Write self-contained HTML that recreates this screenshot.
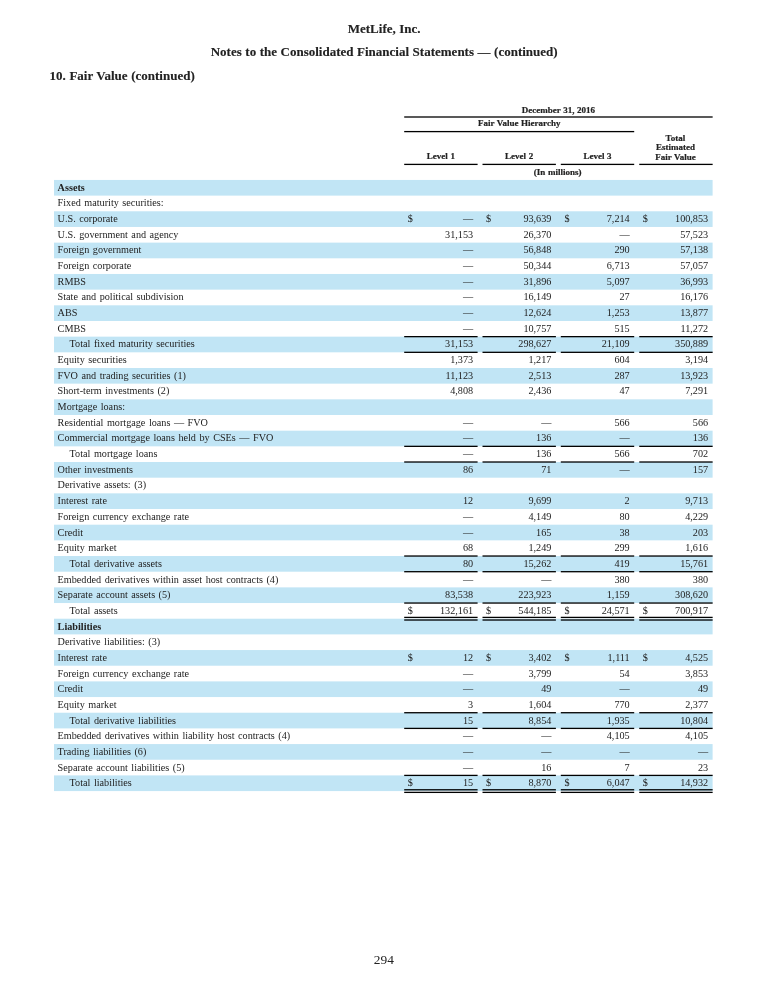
<!DOCTYPE html>
<html><head><meta charset="utf-8"><title>MetLife Fair Value</title>
<style>
html,body{margin:0;padding:0;background:#fff;}
body{width:768px;height:1004px;position:relative;overflow:hidden;font-family:"Liberation Serif",serif;color:#222;}
.t{position:absolute;white-space:nowrap;}
.h{-webkit-text-stroke:0.2px #222;}
.ti{-webkit-text-stroke:0.12px #222;}
#w{position:absolute;left:0;top:0;width:768px;height:1004px;will-change:transform;}
.r{position:absolute;}
</style></head><body>
<svg width="768" height="1004" viewBox="0 0 768 1004" style="position:absolute;left:0;top:0">
<rect x="404.20" y="116.35" width="308.45" height="1.30" fill="#000"/>
<rect x="404.20" y="130.95" width="230.00" height="1.30" fill="#000"/>
<rect x="404.20" y="163.75" width="73.40" height="1.30" fill="#000"/>
<rect x="482.50" y="163.75" width="73.40" height="1.30" fill="#000"/>
<rect x="560.80" y="163.75" width="73.40" height="1.30" fill="#000"/>
<rect x="639.25" y="163.75" width="73.40" height="1.30" fill="#000"/>
<rect x="54.00" y="179.95" width="658.60" height="15.67" fill="#c1e5f5"/>
<rect x="54.00" y="211.29" width="658.60" height="15.67" fill="#c1e5f5"/>
<rect x="54.00" y="242.63" width="658.60" height="15.67" fill="#c1e5f5"/>
<rect x="54.00" y="273.97" width="658.60" height="15.67" fill="#c1e5f5"/>
<rect x="54.00" y="305.31" width="658.60" height="15.67" fill="#c1e5f5"/>
<rect x="54.00" y="336.65" width="658.60" height="15.67" fill="#c1e5f5"/>
<rect x="54.00" y="367.99" width="658.60" height="15.67" fill="#c1e5f5"/>
<rect x="54.00" y="399.33" width="658.60" height="15.67" fill="#c1e5f5"/>
<rect x="54.00" y="430.67" width="658.60" height="15.67" fill="#c1e5f5"/>
<rect x="54.00" y="462.01" width="658.60" height="15.67" fill="#c1e5f5"/>
<rect x="54.00" y="493.35" width="658.60" height="15.67" fill="#c1e5f5"/>
<rect x="54.00" y="524.69" width="658.60" height="15.67" fill="#c1e5f5"/>
<rect x="54.00" y="556.03" width="658.60" height="15.67" fill="#c1e5f5"/>
<rect x="54.00" y="587.37" width="658.60" height="15.67" fill="#c1e5f5"/>
<rect x="54.00" y="618.71" width="658.60" height="15.67" fill="#c1e5f5"/>
<rect x="54.00" y="650.05" width="658.60" height="15.67" fill="#c1e5f5"/>
<rect x="54.00" y="681.39" width="658.60" height="15.67" fill="#c1e5f5"/>
<rect x="54.00" y="712.73" width="658.60" height="15.67" fill="#c1e5f5"/>
<rect x="54.00" y="744.07" width="658.60" height="15.67" fill="#c1e5f5"/>
<rect x="54.00" y="775.41" width="658.60" height="15.67" fill="#c1e5f5"/>
<rect x="404.20" y="336.00" width="73.40" height="1.30" fill="#000"/>
<rect x="482.50" y="336.00" width="73.40" height="1.30" fill="#000"/>
<rect x="560.80" y="336.00" width="73.40" height="1.30" fill="#000"/>
<rect x="639.25" y="336.00" width="73.40" height="1.30" fill="#000"/>
<rect x="404.20" y="445.69" width="73.40" height="1.30" fill="#000"/>
<rect x="482.50" y="445.69" width="73.40" height="1.30" fill="#000"/>
<rect x="560.80" y="445.69" width="73.40" height="1.30" fill="#000"/>
<rect x="639.25" y="445.69" width="73.40" height="1.30" fill="#000"/>
<rect x="404.20" y="555.38" width="73.40" height="1.30" fill="#000"/>
<rect x="482.50" y="555.38" width="73.40" height="1.30" fill="#000"/>
<rect x="560.80" y="555.38" width="73.40" height="1.30" fill="#000"/>
<rect x="639.25" y="555.38" width="73.40" height="1.30" fill="#000"/>
<rect x="404.20" y="602.39" width="73.40" height="1.30" fill="#000"/>
<rect x="482.50" y="602.39" width="73.40" height="1.30" fill="#000"/>
<rect x="560.80" y="602.39" width="73.40" height="1.30" fill="#000"/>
<rect x="639.25" y="602.39" width="73.40" height="1.30" fill="#000"/>
<rect x="404.20" y="712.08" width="73.40" height="1.30" fill="#000"/>
<rect x="482.50" y="712.08" width="73.40" height="1.30" fill="#000"/>
<rect x="560.80" y="712.08" width="73.40" height="1.30" fill="#000"/>
<rect x="639.25" y="712.08" width="73.40" height="1.30" fill="#000"/>
<rect x="404.20" y="774.76" width="73.40" height="1.30" fill="#000"/>
<rect x="482.50" y="774.76" width="73.40" height="1.30" fill="#000"/>
<rect x="560.80" y="774.76" width="73.40" height="1.30" fill="#000"/>
<rect x="639.25" y="774.76" width="73.40" height="1.30" fill="#000"/>
<rect x="404.20" y="351.67" width="73.40" height="1.30" fill="#000"/>
<rect x="482.50" y="351.67" width="73.40" height="1.30" fill="#000"/>
<rect x="560.80" y="351.67" width="73.40" height="1.30" fill="#000"/>
<rect x="639.25" y="351.67" width="73.40" height="1.30" fill="#000"/>
<rect x="404.20" y="461.36" width="73.40" height="1.30" fill="#000"/>
<rect x="482.50" y="461.36" width="73.40" height="1.30" fill="#000"/>
<rect x="560.80" y="461.36" width="73.40" height="1.30" fill="#000"/>
<rect x="639.25" y="461.36" width="73.40" height="1.30" fill="#000"/>
<rect x="404.20" y="571.05" width="73.40" height="1.30" fill="#000"/>
<rect x="482.50" y="571.05" width="73.40" height="1.30" fill="#000"/>
<rect x="560.80" y="571.05" width="73.40" height="1.30" fill="#000"/>
<rect x="639.25" y="571.05" width="73.40" height="1.30" fill="#000"/>
<rect x="404.20" y="727.75" width="73.40" height="1.30" fill="#000"/>
<rect x="482.50" y="727.75" width="73.40" height="1.30" fill="#000"/>
<rect x="560.80" y="727.75" width="73.40" height="1.30" fill="#000"/>
<rect x="639.25" y="727.75" width="73.40" height="1.30" fill="#000"/>
<rect x="404.20" y="616.76" width="73.40" height="1.30" fill="#000"/>
<rect x="404.20" y="619.36" width="73.40" height="1.30" fill="#000"/>
<rect x="482.50" y="616.76" width="73.40" height="1.30" fill="#000"/>
<rect x="482.50" y="619.36" width="73.40" height="1.30" fill="#000"/>
<rect x="560.80" y="616.76" width="73.40" height="1.30" fill="#000"/>
<rect x="560.80" y="619.36" width="73.40" height="1.30" fill="#000"/>
<rect x="639.25" y="616.76" width="73.40" height="1.30" fill="#000"/>
<rect x="639.25" y="619.36" width="73.40" height="1.30" fill="#000"/>
<rect x="404.20" y="789.13" width="73.40" height="1.30" fill="#000"/>
<rect x="404.20" y="791.73" width="73.40" height="1.30" fill="#000"/>
<rect x="482.50" y="789.13" width="73.40" height="1.30" fill="#000"/>
<rect x="482.50" y="791.73" width="73.40" height="1.30" fill="#000"/>
<rect x="560.80" y="789.13" width="73.40" height="1.30" fill="#000"/>
<rect x="560.80" y="791.73" width="73.40" height="1.30" fill="#000"/>
<rect x="639.25" y="789.13" width="73.40" height="1.30" fill="#000"/>
<rect x="639.25" y="791.73" width="73.40" height="1.30" fill="#000"/>
</svg>
<div id="w">
<div class="t ti" style="top:22.11px;font-size:13.0px;line-height:13.0px;word-spacing:0.3px;font-weight:bold;left:84.20px;width:600px;text-align:center;">MetLife, Inc.</div>
<div class="t ti" style="top:45.16px;font-size:13.0px;line-height:13.0px;word-spacing:0.3px;font-weight:bold;left:84.20px;width:600px;text-align:center;">Notes to the Consolidated Financial Statements — (continued)</div>
<div class="t ti" style="top:69.21px;font-size:13.0px;line-height:13.0px;word-spacing:0.3px;font-weight:bold;left:49.60px;">10. Fair Value (continued)</div>
<div class="t h" style="top:105.56px;font-size:9.0px;line-height:9.0px;word-spacing:0.4px;font-weight:bold;left:258.43px;width:600px;text-align:center;">December 31, 2016</div>
<div class="t h" style="top:119.36px;font-size:9.0px;line-height:9.0px;word-spacing:0.4px;font-weight:bold;left:219.20px;width:600px;text-align:center;">Fair Value Hierarchy</div>
<div class="t h" style="top:152.36px;font-size:9.0px;line-height:9.0px;word-spacing:0.4px;font-weight:bold;left:140.90px;width:600px;text-align:center;">Level 1</div>
<div class="t h" style="top:152.36px;font-size:9.0px;line-height:9.0px;word-spacing:0.4px;font-weight:bold;left:219.20px;width:600px;text-align:center;">Level 2</div>
<div class="t h" style="top:152.36px;font-size:9.0px;line-height:9.0px;word-spacing:0.4px;font-weight:bold;left:297.50px;width:600px;text-align:center;">Level 3</div>
<div class="t h" style="top:134.26px;font-size:9.0px;line-height:9.0px;word-spacing:0.4px;font-weight:bold;left:375.45px;width:600px;text-align:center;">Total</div>
<div class="t h" style="top:143.46px;font-size:9.0px;line-height:9.0px;word-spacing:0.4px;font-weight:bold;left:375.45px;width:600px;text-align:center;">Estimated</div>
<div class="t h" style="top:152.66px;font-size:9.0px;line-height:9.0px;word-spacing:0.4px;font-weight:bold;left:375.45px;width:600px;text-align:center;">Fair Value</div>
<div class="t h" style="top:167.66px;font-size:9.0px;line-height:9.0px;word-spacing:0.4px;font-weight:bold;left:257.60px;width:600px;text-align:center;">(In millions)</div>
<div class="t" style="top:182.76px;font-size:10.2px;line-height:10.2px;word-spacing:0.95px;font-weight:bold;left:57.60px;">Assets</div>
<div class="t" style="top:198.43px;font-size:10.2px;line-height:10.2px;word-spacing:0.95px;left:57.60px;">Fixed maturity securities:</div>
<div class="t" style="top:214.10px;font-size:10.2px;line-height:10.2px;word-spacing:0.95px;left:57.60px;">U.S. corporate</div>
<div class="t" style="top:214.10px;font-size:10.2px;line-height:10.2px;left:173.10px;width:300px;text-align:right;">—</div>
<div class="t" style="top:214.10px;font-size:10.2px;line-height:10.2px;left:407.80px;">$</div>
<div class="t" style="top:214.10px;font-size:10.2px;line-height:10.2px;left:251.40px;width:300px;text-align:right;">93,639</div>
<div class="t" style="top:214.10px;font-size:10.2px;line-height:10.2px;left:486.10px;">$</div>
<div class="t" style="top:214.10px;font-size:10.2px;line-height:10.2px;left:329.70px;width:300px;text-align:right;">7,214</div>
<div class="t" style="top:214.10px;font-size:10.2px;line-height:10.2px;left:564.40px;">$</div>
<div class="t" style="top:214.10px;font-size:10.2px;line-height:10.2px;left:408.15px;width:300px;text-align:right;">100,853</div>
<div class="t" style="top:214.10px;font-size:10.2px;line-height:10.2px;left:642.85px;">$</div>
<div class="t" style="top:229.77px;font-size:10.2px;line-height:10.2px;word-spacing:0.95px;left:57.60px;">U.S. government and agency</div>
<div class="t" style="top:229.77px;font-size:10.2px;line-height:10.2px;left:173.10px;width:300px;text-align:right;">31,153</div>
<div class="t" style="top:229.77px;font-size:10.2px;line-height:10.2px;left:251.40px;width:300px;text-align:right;">26,370</div>
<div class="t" style="top:229.77px;font-size:10.2px;line-height:10.2px;left:329.70px;width:300px;text-align:right;">—</div>
<div class="t" style="top:229.77px;font-size:10.2px;line-height:10.2px;left:408.15px;width:300px;text-align:right;">57,523</div>
<div class="t" style="top:245.44px;font-size:10.2px;line-height:10.2px;word-spacing:0.95px;left:57.60px;">Foreign government</div>
<div class="t" style="top:245.44px;font-size:10.2px;line-height:10.2px;left:173.10px;width:300px;text-align:right;">—</div>
<div class="t" style="top:245.44px;font-size:10.2px;line-height:10.2px;left:251.40px;width:300px;text-align:right;">56,848</div>
<div class="t" style="top:245.44px;font-size:10.2px;line-height:10.2px;left:329.70px;width:300px;text-align:right;">290</div>
<div class="t" style="top:245.44px;font-size:10.2px;line-height:10.2px;left:408.15px;width:300px;text-align:right;">57,138</div>
<div class="t" style="top:261.11px;font-size:10.2px;line-height:10.2px;word-spacing:0.95px;left:57.60px;">Foreign corporate</div>
<div class="t" style="top:261.11px;font-size:10.2px;line-height:10.2px;left:173.10px;width:300px;text-align:right;">—</div>
<div class="t" style="top:261.11px;font-size:10.2px;line-height:10.2px;left:251.40px;width:300px;text-align:right;">50,344</div>
<div class="t" style="top:261.11px;font-size:10.2px;line-height:10.2px;left:329.70px;width:300px;text-align:right;">6,713</div>
<div class="t" style="top:261.11px;font-size:10.2px;line-height:10.2px;left:408.15px;width:300px;text-align:right;">57,057</div>
<div class="t" style="top:276.78px;font-size:10.2px;line-height:10.2px;word-spacing:0.95px;left:57.60px;">RMBS</div>
<div class="t" style="top:276.78px;font-size:10.2px;line-height:10.2px;left:173.10px;width:300px;text-align:right;">—</div>
<div class="t" style="top:276.78px;font-size:10.2px;line-height:10.2px;left:251.40px;width:300px;text-align:right;">31,896</div>
<div class="t" style="top:276.78px;font-size:10.2px;line-height:10.2px;left:329.70px;width:300px;text-align:right;">5,097</div>
<div class="t" style="top:276.78px;font-size:10.2px;line-height:10.2px;left:408.15px;width:300px;text-align:right;">36,993</div>
<div class="t" style="top:292.45px;font-size:10.2px;line-height:10.2px;word-spacing:0.95px;left:57.60px;">State and political subdivision</div>
<div class="t" style="top:292.45px;font-size:10.2px;line-height:10.2px;left:173.10px;width:300px;text-align:right;">—</div>
<div class="t" style="top:292.45px;font-size:10.2px;line-height:10.2px;left:251.40px;width:300px;text-align:right;">16,149</div>
<div class="t" style="top:292.45px;font-size:10.2px;line-height:10.2px;left:329.70px;width:300px;text-align:right;">27</div>
<div class="t" style="top:292.45px;font-size:10.2px;line-height:10.2px;left:408.15px;width:300px;text-align:right;">16,176</div>
<div class="t" style="top:308.12px;font-size:10.2px;line-height:10.2px;word-spacing:0.95px;left:57.60px;">ABS</div>
<div class="t" style="top:308.12px;font-size:10.2px;line-height:10.2px;left:173.10px;width:300px;text-align:right;">—</div>
<div class="t" style="top:308.12px;font-size:10.2px;line-height:10.2px;left:251.40px;width:300px;text-align:right;">12,624</div>
<div class="t" style="top:308.12px;font-size:10.2px;line-height:10.2px;left:329.70px;width:300px;text-align:right;">1,253</div>
<div class="t" style="top:308.12px;font-size:10.2px;line-height:10.2px;left:408.15px;width:300px;text-align:right;">13,877</div>
<div class="t" style="top:323.79px;font-size:10.2px;line-height:10.2px;word-spacing:0.95px;left:57.60px;">CMBS</div>
<div class="t" style="top:323.79px;font-size:10.2px;line-height:10.2px;left:173.10px;width:300px;text-align:right;">—</div>
<div class="t" style="top:323.79px;font-size:10.2px;line-height:10.2px;left:251.40px;width:300px;text-align:right;">10,757</div>
<div class="t" style="top:323.79px;font-size:10.2px;line-height:10.2px;left:329.70px;width:300px;text-align:right;">515</div>
<div class="t" style="top:323.79px;font-size:10.2px;line-height:10.2px;left:408.15px;width:300px;text-align:right;">11,272</div>
<div class="t" style="top:339.46px;font-size:10.2px;line-height:10.2px;word-spacing:0.95px;left:69.60px;">Total fixed maturity securities</div>
<div class="t" style="top:339.46px;font-size:10.2px;line-height:10.2px;left:173.10px;width:300px;text-align:right;">31,153</div>
<div class="t" style="top:339.46px;font-size:10.2px;line-height:10.2px;left:251.40px;width:300px;text-align:right;">298,627</div>
<div class="t" style="top:339.46px;font-size:10.2px;line-height:10.2px;left:329.70px;width:300px;text-align:right;">21,109</div>
<div class="t" style="top:339.46px;font-size:10.2px;line-height:10.2px;left:408.15px;width:300px;text-align:right;">350,889</div>
<div class="t" style="top:355.13px;font-size:10.2px;line-height:10.2px;word-spacing:0.95px;left:57.60px;">Equity securities</div>
<div class="t" style="top:355.13px;font-size:10.2px;line-height:10.2px;left:173.10px;width:300px;text-align:right;">1,373</div>
<div class="t" style="top:355.13px;font-size:10.2px;line-height:10.2px;left:251.40px;width:300px;text-align:right;">1,217</div>
<div class="t" style="top:355.13px;font-size:10.2px;line-height:10.2px;left:329.70px;width:300px;text-align:right;">604</div>
<div class="t" style="top:355.13px;font-size:10.2px;line-height:10.2px;left:408.15px;width:300px;text-align:right;">3,194</div>
<div class="t" style="top:370.80px;font-size:10.2px;line-height:10.2px;word-spacing:0.95px;left:57.60px;">FVO and trading securities (1)</div>
<div class="t" style="top:370.80px;font-size:10.2px;line-height:10.2px;left:173.10px;width:300px;text-align:right;">11,123</div>
<div class="t" style="top:370.80px;font-size:10.2px;line-height:10.2px;left:251.40px;width:300px;text-align:right;">2,513</div>
<div class="t" style="top:370.80px;font-size:10.2px;line-height:10.2px;left:329.70px;width:300px;text-align:right;">287</div>
<div class="t" style="top:370.80px;font-size:10.2px;line-height:10.2px;left:408.15px;width:300px;text-align:right;">13,923</div>
<div class="t" style="top:386.47px;font-size:10.2px;line-height:10.2px;word-spacing:0.95px;left:57.60px;">Short-term investments (2)</div>
<div class="t" style="top:386.47px;font-size:10.2px;line-height:10.2px;left:173.10px;width:300px;text-align:right;">4,808</div>
<div class="t" style="top:386.47px;font-size:10.2px;line-height:10.2px;left:251.40px;width:300px;text-align:right;">2,436</div>
<div class="t" style="top:386.47px;font-size:10.2px;line-height:10.2px;left:329.70px;width:300px;text-align:right;">47</div>
<div class="t" style="top:386.47px;font-size:10.2px;line-height:10.2px;left:408.15px;width:300px;text-align:right;">7,291</div>
<div class="t" style="top:402.14px;font-size:10.2px;line-height:10.2px;word-spacing:0.95px;left:57.60px;">Mortgage loans:</div>
<div class="t" style="top:417.81px;font-size:10.2px;line-height:10.2px;word-spacing:0.95px;left:57.60px;">Residential mortgage loans — FVO</div>
<div class="t" style="top:417.81px;font-size:10.2px;line-height:10.2px;left:173.10px;width:300px;text-align:right;">—</div>
<div class="t" style="top:417.81px;font-size:10.2px;line-height:10.2px;left:251.40px;width:300px;text-align:right;">—</div>
<div class="t" style="top:417.81px;font-size:10.2px;line-height:10.2px;left:329.70px;width:300px;text-align:right;">566</div>
<div class="t" style="top:417.81px;font-size:10.2px;line-height:10.2px;left:408.15px;width:300px;text-align:right;">566</div>
<div class="t" style="top:433.48px;font-size:10.2px;line-height:10.2px;word-spacing:0.95px;left:57.60px;">Commercial mortgage loans held by CSEs — FVO</div>
<div class="t" style="top:433.48px;font-size:10.2px;line-height:10.2px;left:173.10px;width:300px;text-align:right;">—</div>
<div class="t" style="top:433.48px;font-size:10.2px;line-height:10.2px;left:251.40px;width:300px;text-align:right;">136</div>
<div class="t" style="top:433.48px;font-size:10.2px;line-height:10.2px;left:329.70px;width:300px;text-align:right;">—</div>
<div class="t" style="top:433.48px;font-size:10.2px;line-height:10.2px;left:408.15px;width:300px;text-align:right;">136</div>
<div class="t" style="top:449.15px;font-size:10.2px;line-height:10.2px;word-spacing:0.95px;left:69.60px;">Total mortgage loans</div>
<div class="t" style="top:449.15px;font-size:10.2px;line-height:10.2px;left:173.10px;width:300px;text-align:right;">—</div>
<div class="t" style="top:449.15px;font-size:10.2px;line-height:10.2px;left:251.40px;width:300px;text-align:right;">136</div>
<div class="t" style="top:449.15px;font-size:10.2px;line-height:10.2px;left:329.70px;width:300px;text-align:right;">566</div>
<div class="t" style="top:449.15px;font-size:10.2px;line-height:10.2px;left:408.15px;width:300px;text-align:right;">702</div>
<div class="t" style="top:464.82px;font-size:10.2px;line-height:10.2px;word-spacing:0.95px;left:57.60px;">Other investments</div>
<div class="t" style="top:464.82px;font-size:10.2px;line-height:10.2px;left:173.10px;width:300px;text-align:right;">86</div>
<div class="t" style="top:464.82px;font-size:10.2px;line-height:10.2px;left:251.40px;width:300px;text-align:right;">71</div>
<div class="t" style="top:464.82px;font-size:10.2px;line-height:10.2px;left:329.70px;width:300px;text-align:right;">—</div>
<div class="t" style="top:464.82px;font-size:10.2px;line-height:10.2px;left:408.15px;width:300px;text-align:right;">157</div>
<div class="t" style="top:480.49px;font-size:10.2px;line-height:10.2px;word-spacing:0.95px;left:57.60px;">Derivative assets: (3)</div>
<div class="t" style="top:496.16px;font-size:10.2px;line-height:10.2px;word-spacing:0.95px;left:57.60px;">Interest rate</div>
<div class="t" style="top:496.16px;font-size:10.2px;line-height:10.2px;left:173.10px;width:300px;text-align:right;">12</div>
<div class="t" style="top:496.16px;font-size:10.2px;line-height:10.2px;left:251.40px;width:300px;text-align:right;">9,699</div>
<div class="t" style="top:496.16px;font-size:10.2px;line-height:10.2px;left:329.70px;width:300px;text-align:right;">2</div>
<div class="t" style="top:496.16px;font-size:10.2px;line-height:10.2px;left:408.15px;width:300px;text-align:right;">9,713</div>
<div class="t" style="top:511.83px;font-size:10.2px;line-height:10.2px;word-spacing:0.95px;left:57.60px;">Foreign currency exchange rate</div>
<div class="t" style="top:511.83px;font-size:10.2px;line-height:10.2px;left:173.10px;width:300px;text-align:right;">—</div>
<div class="t" style="top:511.83px;font-size:10.2px;line-height:10.2px;left:251.40px;width:300px;text-align:right;">4,149</div>
<div class="t" style="top:511.83px;font-size:10.2px;line-height:10.2px;left:329.70px;width:300px;text-align:right;">80</div>
<div class="t" style="top:511.83px;font-size:10.2px;line-height:10.2px;left:408.15px;width:300px;text-align:right;">4,229</div>
<div class="t" style="top:527.50px;font-size:10.2px;line-height:10.2px;word-spacing:0.95px;left:57.60px;">Credit</div>
<div class="t" style="top:527.50px;font-size:10.2px;line-height:10.2px;left:173.10px;width:300px;text-align:right;">—</div>
<div class="t" style="top:527.50px;font-size:10.2px;line-height:10.2px;left:251.40px;width:300px;text-align:right;">165</div>
<div class="t" style="top:527.50px;font-size:10.2px;line-height:10.2px;left:329.70px;width:300px;text-align:right;">38</div>
<div class="t" style="top:527.50px;font-size:10.2px;line-height:10.2px;left:408.15px;width:300px;text-align:right;">203</div>
<div class="t" style="top:543.17px;font-size:10.2px;line-height:10.2px;word-spacing:0.95px;left:57.60px;">Equity market</div>
<div class="t" style="top:543.17px;font-size:10.2px;line-height:10.2px;left:173.10px;width:300px;text-align:right;">68</div>
<div class="t" style="top:543.17px;font-size:10.2px;line-height:10.2px;left:251.40px;width:300px;text-align:right;">1,249</div>
<div class="t" style="top:543.17px;font-size:10.2px;line-height:10.2px;left:329.70px;width:300px;text-align:right;">299</div>
<div class="t" style="top:543.17px;font-size:10.2px;line-height:10.2px;left:408.15px;width:300px;text-align:right;">1,616</div>
<div class="t" style="top:558.84px;font-size:10.2px;line-height:10.2px;word-spacing:0.95px;left:69.60px;">Total derivative assets</div>
<div class="t" style="top:558.84px;font-size:10.2px;line-height:10.2px;left:173.10px;width:300px;text-align:right;">80</div>
<div class="t" style="top:558.84px;font-size:10.2px;line-height:10.2px;left:251.40px;width:300px;text-align:right;">15,262</div>
<div class="t" style="top:558.84px;font-size:10.2px;line-height:10.2px;left:329.70px;width:300px;text-align:right;">419</div>
<div class="t" style="top:558.84px;font-size:10.2px;line-height:10.2px;left:408.15px;width:300px;text-align:right;">15,761</div>
<div class="t" style="top:574.51px;font-size:10.2px;line-height:10.2px;word-spacing:0.95px;left:57.60px;">Embedded derivatives within asset host contracts (4)</div>
<div class="t" style="top:574.51px;font-size:10.2px;line-height:10.2px;left:173.10px;width:300px;text-align:right;">—</div>
<div class="t" style="top:574.51px;font-size:10.2px;line-height:10.2px;left:251.40px;width:300px;text-align:right;">—</div>
<div class="t" style="top:574.51px;font-size:10.2px;line-height:10.2px;left:329.70px;width:300px;text-align:right;">380</div>
<div class="t" style="top:574.51px;font-size:10.2px;line-height:10.2px;left:408.15px;width:300px;text-align:right;">380</div>
<div class="t" style="top:590.18px;font-size:10.2px;line-height:10.2px;word-spacing:0.95px;left:57.60px;">Separate account assets (5)</div>
<div class="t" style="top:590.18px;font-size:10.2px;line-height:10.2px;left:173.10px;width:300px;text-align:right;">83,538</div>
<div class="t" style="top:590.18px;font-size:10.2px;line-height:10.2px;left:251.40px;width:300px;text-align:right;">223,923</div>
<div class="t" style="top:590.18px;font-size:10.2px;line-height:10.2px;left:329.70px;width:300px;text-align:right;">1,159</div>
<div class="t" style="top:590.18px;font-size:10.2px;line-height:10.2px;left:408.15px;width:300px;text-align:right;">308,620</div>
<div class="t" style="top:605.85px;font-size:10.2px;line-height:10.2px;word-spacing:0.95px;left:69.60px;">Total assets</div>
<div class="t" style="top:605.85px;font-size:10.2px;line-height:10.2px;left:173.10px;width:300px;text-align:right;">132,161</div>
<div class="t" style="top:605.85px;font-size:10.2px;line-height:10.2px;left:407.80px;">$</div>
<div class="t" style="top:605.85px;font-size:10.2px;line-height:10.2px;left:251.40px;width:300px;text-align:right;">544,185</div>
<div class="t" style="top:605.85px;font-size:10.2px;line-height:10.2px;left:486.10px;">$</div>
<div class="t" style="top:605.85px;font-size:10.2px;line-height:10.2px;left:329.70px;width:300px;text-align:right;">24,571</div>
<div class="t" style="top:605.85px;font-size:10.2px;line-height:10.2px;left:564.40px;">$</div>
<div class="t" style="top:605.85px;font-size:10.2px;line-height:10.2px;left:408.15px;width:300px;text-align:right;">700,917</div>
<div class="t" style="top:605.85px;font-size:10.2px;line-height:10.2px;left:642.85px;">$</div>
<div class="t" style="top:621.52px;font-size:10.2px;line-height:10.2px;word-spacing:0.95px;font-weight:bold;left:57.60px;">Liabilities</div>
<div class="t" style="top:637.19px;font-size:10.2px;line-height:10.2px;word-spacing:0.95px;left:57.60px;">Derivative liabilities: (3)</div>
<div class="t" style="top:652.86px;font-size:10.2px;line-height:10.2px;word-spacing:0.95px;left:57.60px;">Interest rate</div>
<div class="t" style="top:652.86px;font-size:10.2px;line-height:10.2px;left:173.10px;width:300px;text-align:right;">12</div>
<div class="t" style="top:652.86px;font-size:10.2px;line-height:10.2px;left:407.80px;">$</div>
<div class="t" style="top:652.86px;font-size:10.2px;line-height:10.2px;left:251.40px;width:300px;text-align:right;">3,402</div>
<div class="t" style="top:652.86px;font-size:10.2px;line-height:10.2px;left:486.10px;">$</div>
<div class="t" style="top:652.86px;font-size:10.2px;line-height:10.2px;left:329.70px;width:300px;text-align:right;">1,111</div>
<div class="t" style="top:652.86px;font-size:10.2px;line-height:10.2px;left:564.40px;">$</div>
<div class="t" style="top:652.86px;font-size:10.2px;line-height:10.2px;left:408.15px;width:300px;text-align:right;">4,525</div>
<div class="t" style="top:652.86px;font-size:10.2px;line-height:10.2px;left:642.85px;">$</div>
<div class="t" style="top:668.53px;font-size:10.2px;line-height:10.2px;word-spacing:0.95px;left:57.60px;">Foreign currency exchange rate</div>
<div class="t" style="top:668.53px;font-size:10.2px;line-height:10.2px;left:173.10px;width:300px;text-align:right;">—</div>
<div class="t" style="top:668.53px;font-size:10.2px;line-height:10.2px;left:251.40px;width:300px;text-align:right;">3,799</div>
<div class="t" style="top:668.53px;font-size:10.2px;line-height:10.2px;left:329.70px;width:300px;text-align:right;">54</div>
<div class="t" style="top:668.53px;font-size:10.2px;line-height:10.2px;left:408.15px;width:300px;text-align:right;">3,853</div>
<div class="t" style="top:684.20px;font-size:10.2px;line-height:10.2px;word-spacing:0.95px;left:57.60px;">Credit</div>
<div class="t" style="top:684.20px;font-size:10.2px;line-height:10.2px;left:173.10px;width:300px;text-align:right;">—</div>
<div class="t" style="top:684.20px;font-size:10.2px;line-height:10.2px;left:251.40px;width:300px;text-align:right;">49</div>
<div class="t" style="top:684.20px;font-size:10.2px;line-height:10.2px;left:329.70px;width:300px;text-align:right;">—</div>
<div class="t" style="top:684.20px;font-size:10.2px;line-height:10.2px;left:408.15px;width:300px;text-align:right;">49</div>
<div class="t" style="top:699.87px;font-size:10.2px;line-height:10.2px;word-spacing:0.95px;left:57.60px;">Equity market</div>
<div class="t" style="top:699.87px;font-size:10.2px;line-height:10.2px;left:173.10px;width:300px;text-align:right;">3</div>
<div class="t" style="top:699.87px;font-size:10.2px;line-height:10.2px;left:251.40px;width:300px;text-align:right;">1,604</div>
<div class="t" style="top:699.87px;font-size:10.2px;line-height:10.2px;left:329.70px;width:300px;text-align:right;">770</div>
<div class="t" style="top:699.87px;font-size:10.2px;line-height:10.2px;left:408.15px;width:300px;text-align:right;">2,377</div>
<div class="t" style="top:715.54px;font-size:10.2px;line-height:10.2px;word-spacing:0.95px;left:69.60px;">Total derivative liabilities</div>
<div class="t" style="top:715.54px;font-size:10.2px;line-height:10.2px;left:173.10px;width:300px;text-align:right;">15</div>
<div class="t" style="top:715.54px;font-size:10.2px;line-height:10.2px;left:251.40px;width:300px;text-align:right;">8,854</div>
<div class="t" style="top:715.54px;font-size:10.2px;line-height:10.2px;left:329.70px;width:300px;text-align:right;">1,935</div>
<div class="t" style="top:715.54px;font-size:10.2px;line-height:10.2px;left:408.15px;width:300px;text-align:right;">10,804</div>
<div class="t" style="top:731.21px;font-size:10.2px;line-height:10.2px;word-spacing:0.95px;left:57.60px;">Embedded derivatives within liability host contracts (4)</div>
<div class="t" style="top:731.21px;font-size:10.2px;line-height:10.2px;left:173.10px;width:300px;text-align:right;">—</div>
<div class="t" style="top:731.21px;font-size:10.2px;line-height:10.2px;left:251.40px;width:300px;text-align:right;">—</div>
<div class="t" style="top:731.21px;font-size:10.2px;line-height:10.2px;left:329.70px;width:300px;text-align:right;">4,105</div>
<div class="t" style="top:731.21px;font-size:10.2px;line-height:10.2px;left:408.15px;width:300px;text-align:right;">4,105</div>
<div class="t" style="top:746.88px;font-size:10.2px;line-height:10.2px;word-spacing:0.95px;left:57.60px;">Trading liabilities (6)</div>
<div class="t" style="top:746.88px;font-size:10.2px;line-height:10.2px;left:173.10px;width:300px;text-align:right;">—</div>
<div class="t" style="top:746.88px;font-size:10.2px;line-height:10.2px;left:251.40px;width:300px;text-align:right;">—</div>
<div class="t" style="top:746.88px;font-size:10.2px;line-height:10.2px;left:329.70px;width:300px;text-align:right;">—</div>
<div class="t" style="top:746.88px;font-size:10.2px;line-height:10.2px;left:408.15px;width:300px;text-align:right;">—</div>
<div class="t" style="top:762.55px;font-size:10.2px;line-height:10.2px;word-spacing:0.95px;left:57.60px;">Separate account liabilities (5)</div>
<div class="t" style="top:762.55px;font-size:10.2px;line-height:10.2px;left:173.10px;width:300px;text-align:right;">—</div>
<div class="t" style="top:762.55px;font-size:10.2px;line-height:10.2px;left:251.40px;width:300px;text-align:right;">16</div>
<div class="t" style="top:762.55px;font-size:10.2px;line-height:10.2px;left:329.70px;width:300px;text-align:right;">7</div>
<div class="t" style="top:762.55px;font-size:10.2px;line-height:10.2px;left:408.15px;width:300px;text-align:right;">23</div>
<div class="t" style="top:778.22px;font-size:10.2px;line-height:10.2px;word-spacing:0.95px;left:69.60px;">Total liabilities</div>
<div class="t" style="top:778.22px;font-size:10.2px;line-height:10.2px;left:173.10px;width:300px;text-align:right;">15</div>
<div class="t" style="top:778.22px;font-size:10.2px;line-height:10.2px;left:407.80px;">$</div>
<div class="t" style="top:778.22px;font-size:10.2px;line-height:10.2px;left:251.40px;width:300px;text-align:right;">8,870</div>
<div class="t" style="top:778.22px;font-size:10.2px;line-height:10.2px;left:486.10px;">$</div>
<div class="t" style="top:778.22px;font-size:10.2px;line-height:10.2px;left:329.70px;width:300px;text-align:right;">6,047</div>
<div class="t" style="top:778.22px;font-size:10.2px;line-height:10.2px;left:564.40px;">$</div>
<div class="t" style="top:778.22px;font-size:10.2px;line-height:10.2px;left:408.15px;width:300px;text-align:right;">14,932</div>
<div class="t" style="top:778.22px;font-size:10.2px;line-height:10.2px;left:642.85px;">$</div>
<div class="t" style="top:952.58px;font-size:13.4px;line-height:13.4px;left:83.90px;width:600px;text-align:center;">294</div>
</div>
</body></html>
